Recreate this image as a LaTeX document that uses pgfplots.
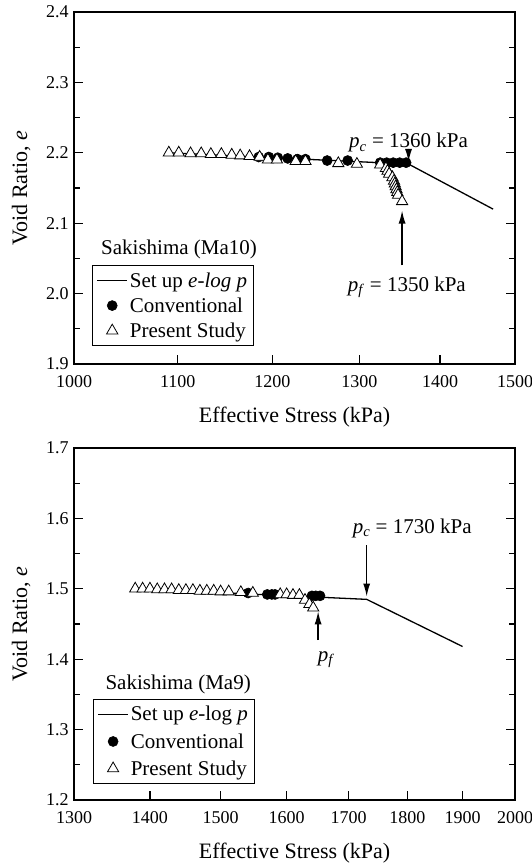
\documentclass[border=0pt]{standalone}
\usepackage{fontspec}
\setmainfont{Liberation Serif}
\usepackage{pgfplots}
\pgfplotsset{compat=1.18}
\usetikzlibrary{arrows.meta}

\tikzset{arr/.style={-{Latex[length=13pt,width=7pt]}, line width=1.3pt},
  ann/.style={font=\fontsize{21}{25}\selectfont}}

\pgfplotsset{
  eplot/.style={
    scale only axis, width=441pt, height=352pt,
    axis line style={line width=1.4pt},
    tick align=inside, xtick pos=bottom, ytick pos=both,
    major tick length=9pt, minor tick length=6pt,
    every tick/.style={black, line width=1.2pt},
    minor y tick num=1, minor xtick={},
    tick label style={font=\fontsize{18}{20}\selectfont},
    xticklabel style={yshift=-8pt},
    yticklabel style={xshift=-2pt},
    label style={font=\fontsize{22}{26}\selectfont},
    /pgf/number format/assume math mode=true,
    y tick label style={/pgf/number format/.cd, fixed, fixed zerofill, precision=1, /tikz/.cd},
    xlabel={Effective Stress (kPa)},
    ylabel={Void Ratio, \textit{e}},
    ylabel style={at={(axis description cs:-0.12,0.5)}, anchor=center},
    xlabel style={at={(axis description cs:0.5,-0.152)}, anchor=center},
    legend cell align=left,
    legend style={draw=black, line width=0.8pt, font=\fontsize{21}{24}\selectfont,
      inner xsep=4pt, inner ysep=5pt, row sep=5pt},
    every axis plot/.append style={line width=1.2pt},
  },
  circ/.style={only marks, mark=*, mark size=5pt, mark options={fill=black, draw=black, line width=0.6pt},
    legend image code/.code={\draw[mark repeat=2, mark phase=2, ##1] plot coordinates {(0pt,0pt) (15pt,0pt) (30pt,0pt)};}},
  tri/.style={only marks, mark=triangle*, mark size=6.5pt, mark options={fill=white, draw=black, line width=0.8pt},
    legend image code/.code={\draw[mark repeat=2, mark phase=2, ##1] plot coordinates {(0pt,0pt) (15pt,0pt) (30pt,0pt)};}},
  setup/.style={black, line width=1.3pt, mark=none,
    legend image code/.code={\draw[black, line width=1.3pt] (0pt,0pt) -- (30pt,0pt);}},
}

\begin{document}
\begin{tikzpicture}[x=1pt,y=1pt]
\path[use as bounding box] (0,0) rectangle (532,865);

% upper panel
\begin{axis}[xmode=log, eplot, at={(74pt,501pt)}, anchor=south west,
    xmin=1000, xmax=1500, ymin=1.9, ymax=2.4,
    xtick={1000,1100,1200,1300,1400,1500},
    xticklabels={1000,1100,1200,1300,1400,1500},
    ytick={1.9,2.0,2.1,2.2,2.3,2.4},
    legend style={at={(0.041,0.281)}, anchor=north west}]
  \addplot[setup] coordinates {(1090,2.200) (1360,2.184) (1470,2.120)};
  \addlegendentry{Set up \textit{e-log p}}
  \addplot[circ] coordinates {
    (1185,2.194) (1196,2.194) (1206,2.193) (1217,2.192) (1228,2.191) (1237,2.191)
    (1262,2.189) (1286,2.189) (1325,2.186) (1333,2.186) (1341,2.186) (1349,2.186) (1357,2.186)};
  \addlegendentry{Conventional}
  \addplot[tri] coordinates {
    (1091,2.200) (1101,2.200) (1113,2.199) (1124,2.199) (1134,2.198) (1145,2.198)
    (1156,2.197) (1165,2.196) (1175,2.195) (1186,2.194) (1195,2.190) (1205,2.190)
    (1226,2.188) (1237,2.188) (1275,2.185) (1297,2.184) (1325,2.183) (1332,2.178)
    (1334,2.174) (1336,2.170) (1340,2.165) (1342,2.160) (1343,2.156) (1344,2.152)
    (1345,2.148) (1346,2.144) (1347,2.140) (1352,2.131)};
  \addlegendentry{Present Study}

  \node[ann] at (rel axis cs:0.238,0.324) {Sakishima (Ma10)};
  \draw[arr] (axis cs:1360,2.206) -- (axis cs:1360,2.187);
  \node[ann] at (axis cs:1360,2.214) {\textit{p}\textsubscript{\textit{c}} = 1360 kPa};
  \draw[arr] (axis cs:1352,2.040) -- (axis cs:1352,2.118);
  \node[ann] at (axis cs:1358,2.009) {\textit{p}\textsubscript{\textit{f}} = 1350 kPa};
\end{axis}

% lower panel
\begin{axis}[xmode=log, eplot, at={(74pt,65pt)}, anchor=south west,
    xmin=1300, xmax=2000, ymin=1.2, ymax=1.7,
    xtick={1300,1400,1500,1600,1700,1800,1900,2000},
    xticklabels={1300,1400,1500,1600,1700,1800,1900,2000},
    ytick={1.2,1.3,1.4,1.5,1.6,1.7},
    legend style={at={(0.043,0.287)}, anchor=north west, row sep=7pt}]
  \addplot[setup] coordinates {(1380,1.500) (1730,1.485) (1900,1.418)};
  \addlegendentry{Set up \textit{e}-log \textit{p}}
  \addplot[circ] coordinates {
    (1541,1.494) (1570,1.492) (1577,1.492) (1582,1.492) (1640,1.490) (1646,1.490) (1653,1.490)};
  \addlegendentry{Conventional}
  \addplot[tri] coordinates {
    (1380,1.500) (1390,1.500) (1400,1.500) (1410,1.499) (1420,1.499) (1430,1.499)
    (1440,1.498) (1450,1.498) (1460,1.498) (1470,1.497) (1480,1.497) (1490,1.497)
    (1500,1.496) (1512,1.496) (1530,1.495) (1548,1.494) (1590,1.492) (1600,1.492)
    (1610,1.491) (1620,1.491) (1629,1.484) (1636,1.478) (1642,1.473)};
  \addlegendentry{Present Study}

  \node[ann] at (rel axis cs:0.236,0.327) {Sakishima (Ma9)};
  \draw[arr] (axis cs:1730,1.562) -- (axis cs:1730,1.489);
  \node[ann] at (axis cs:1809,1.586) {\textit{p}\textsubscript{\textit{c}} = 1730 kPa};
  \draw[arr] (axis cs:1650,1.427) -- (axis cs:1650,1.468);
  \node[ann] at (axis cs:1663,1.399) {\textit{p}\textsubscript{\textit{f}}};
\end{axis}
\end{tikzpicture}
\end{document}
